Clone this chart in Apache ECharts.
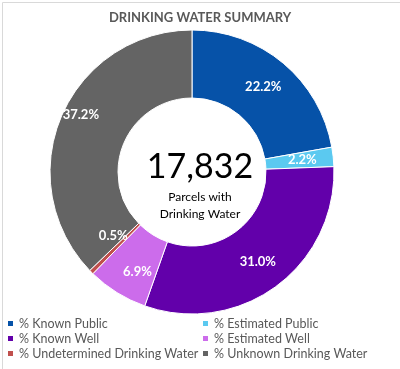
<!DOCTYPE html>
<html>
<head>
<meta charset="utf-8">
<script src="https://cdn.jsdelivr.net/npm/echarts@6/dist/echarts.min.js"></script>
<style>
html,body{margin:0;padding:0;background:#fff;}
#c{width:400px;height:369px;}
</style>
</head>
<body>
<div id="c"></div>
<script>
const categories = ['% Known Public','% Estimated Public','% Known Well','% Estimated Well','% Undetermined Drinking Water','% Unknown Drinking Water'];
const values = [22.2, 2.2, 31.0, 6.9, 0.5, 37.2];
const colors = ['#0652A8','#5BC9F0','#6200AA','#CC6CEB','#C0504D','#646464'];
const titleText = 'DRINKING WATER SUMMARY';
const totalText = '17,832';
const subText = ['Parcels with', 'Drinking Water'];

const FONT = 'Lato, "Open Sans", sans-serif';
const chart = echarts.init(document.getElementById('c'), null, {renderer:'canvas'});
chart.setOption({
  animation:false,
  color: colors,
  title:{
    text: titleText, left:'center', top:6,
    textStyle:{fontFamily:FONT, fontSize:13, fontWeight:'bold', color:'#595959'}
  },
  legend:{
    data: categories, left:6, top:316, right:0, padding:[0,0,0,0], orient:'horizontal',
    icon:'rect', itemWidth:7, itemHeight:7, itemGap:0, itemTextGap:4,
    textStyle:{fontFamily:FONT, fontSize:12.5, color:'#595959', width:182, lineHeight:15}
  },
  graphic:[
    {type:'rect', left:0, top:0, shape:{x:0.5,y:0.5,width:399,height:368}, style:{fill:'none', stroke:'#d9d9d9', lineWidth:1}, silent:true},
    {type:'text', left:'center', top:150, x:-8, style:{text: totalText, font:'34px '+FONT, fill:'#000', textAlign:'center'}},
    {type:'text', left:'center', top:189, x:-8, style:{text: subText.join('\n'), font:'12px '+FONT, fill:'#000', textAlign:'center', lineHeight:17}}
  ],
  series:[{
    type:'pie',
    center:[192,172],
    radius:[74,142],
    startAngle:90,
    clockwise:true,
    avoidLabelOverlap:false,
    itemStyle:{borderColor:'#fff', borderWidth:1},
    label:{
      show:true, position:'inside', formatter: p => p.value.toFixed(1)+'%',
      fontFamily:FONT, fontSize:13, fontWeight:'bold', color:'#fff'
    },
    labelLine:{show:false},
    labelLayout: function(p){
      if (p.dataIndex === 4) return {dy:-14};
      if (p.dataIndex === 5) return {dx:-9, dy:-14};
      if (p.dataIndex === 3) return {dx:4, dy:6};
      return {};
    },
    data: categories.map((c,i)=>({name:c, value:values[i]}))
  }]
});
</script>
</body>
</html>
